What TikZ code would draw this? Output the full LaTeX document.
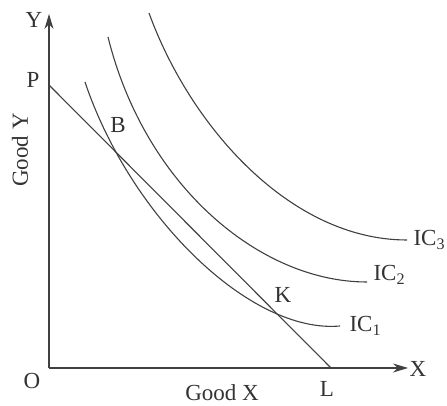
\documentclass[tikz,border=0pt]{standalone}
\usepackage{fontspec}
\setmainfont{Liberation Serif}
\usepackage{tikz}
\usetikzlibrary{arrows.meta}

\begin{document}
\begin{tikzpicture}[x=1pt,y=1pt,>={Stealth[length=15pt,width=9pt]},
		curve/.style={line width=1.1pt,black!75},
		lbl/.style={font=\fontsize{23}{26}\selectfont,text=black!80}]
			\useasboundingbox (0,0) rectangle (447,406);
			\coordinate (O) at (49,38);
			\coordinate (Ytop) at (49,392);
			\coordinate (Xend) at (408,38);
			\coordinate (P) at (49,321);
			\coordinate (L) at (331,38);
			\draw[curve,->] (O) -- (Ytop);
			\draw[curve,->] (O) -- (Xend);
			\draw[curve] (P) -- (L);
			% indifference curves
			\coordinate (a1) at (85,324);  \coordinate (e1) at (340,80);
			\coordinate (a2) at (108,369); \coordinate (e2) at (367,124);
			\coordinate (a3) at (149,393); \coordinate (e3) at (407,166);
			\draw[curve] (a1) .. controls (130,190) and (250,72) .. (e1);
			\draw[curve] (a2) .. controls (145,220) and (260,124) .. (e2);
			\draw[curve] (a3) .. controls (190,280) and (290,166) .. (e3);
			\node[lbl] (labY) at (34,386) {Y};
			\node[lbl] (labX) at (418,37) {X};
			\node[lbl] (labO) at (32,25) {O};
			\node[lbl] (labP) at (33,326) {P};
			\node[lbl] (labL) at (327,17) {L};
			\node[lbl] (labB) at (118,281) {B};
			\node[lbl] (labK) at (283,111) {K};
			\node[lbl,rotate=90] (goodY) at (20,256) {Good Y};
			\node[lbl] (goodX) at (222,13) {Good X};
			\node[lbl,right] (labIC1) at (346,80) {IC\textsubscript{1}};
			\node[lbl,right] (labIC2) at (370,131) {IC\textsubscript{2}};
			\node[lbl,right] (labIC3) at (410,166) {IC\textsubscript{3}};
		\end{tikzpicture}
\end{document}
